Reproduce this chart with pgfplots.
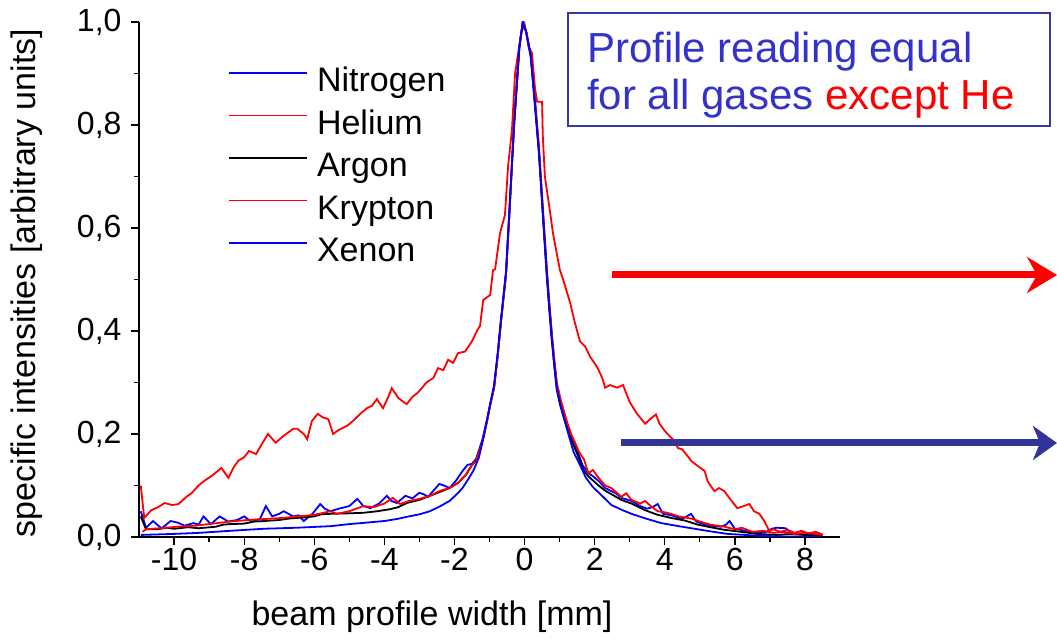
\documentclass[border=0pt]{standalone}
\usepackage{fontspec}
\setmainfont{Liberation Sans}
\usepackage{pgfplots}
\pgfplotsset{compat=1.18}
\usetikzlibrary{arrows.meta}
\definecolor{txtblue}{rgb}{0.2,0.2,0.8}
\definecolor{boxblue}{rgb}{0.22,0.22,0.66}
\definecolor{arrblue}{rgb}{0.2,0.2,0.6}
\begin{document}
\begin{tikzpicture}
\path[use as bounding box] (0,0) rectangle (1057pt,639pt);
\begin{axis}[
  at={(139pt,102pt)}, anchor=south west,
  scale only axis, width=701pt, height=515pt,
  xmin=-11, xmax=9, ymin=0, ymax=1,
  axis x line*=bottom, axis y line*=left,
  axis line style={line width=1.3pt, -},
  xtick={-10,-8,-6,-4,-2,0,2,4,6,8},
  ytick={0,0.2,0.4,0.6,0.8,1},
  minor x tick num=1, minor y tick num=1,
  tick align=outside,
  major tick length=8pt, minor tick length=5pt,
  every tick/.style={black, line width=1.3pt},
  tick label style={font=\fontsize{32}{38}\selectfont},
  /pgf/number format/assume math mode=true,
  yticklabel style={xshift=-6pt, /pgf/number format/fixed, /pgf/number format/fixed zerofill, /pgf/number format/precision=1, /pgf/number format/use comma},
  xlabel={beam profile width [mm]},
  ylabel={specific intensities [arbitrary units]},
  label style={font=\fontsize{34}{40}\selectfont},
  xlabel style={at={(axis description cs:0.418,-0.171)}, anchor=base},
  ylabel style={at={(axis description cs:-0.148,0.493)}, anchor=base},
  legend cell align=left,
  legend image code/.code={\draw[#1] (0pt,10pt) -- (78pt,10pt);},
  legend style={draw=none, fill=none, at={(axis description cs:0.127,0.912)}, anchor=north west,
    font=\fontsize{34}{40}\selectfont, row sep=11.5pt, column sep=9pt, inner sep=0pt,
    nodes={inner sep=0pt, text height=24pt, text depth=7pt}},
  every axis plot/.append style={line width=1.8pt},
]
% Nitrogen (noisy blue)
\addplot[blue] coordinates {
(-10.95,0.05) (-10.8,0.018) (-10.6,0.031) (-10.45,0.022) (-10.35,0.017) (-10.1,0.031) (-9.9,0.028) (-9.7,0.022) (-9.45,0.027) (-9.3,0.024) (-9.16,0.04) (-8.95,0.025) (-8.7,0.04) (-8.45,0.03) (-8.2,0.033) (-8.0,0.04) (-7.8,0.03) (-7.55,0.035) (-7.38,0.06) (-7.2,0.04) (-7.0,0.045) (-6.87,0.05) (-6.6,0.04) (-6.45,0.042) (-6.3,0.031) (-6.05,0.045) (-5.83,0.064) (-5.7,0.055) (-5.54,0.05) (-5.3,0.055) (-5.0,0.06) (-4.77,0.074) (-4.6,0.06) (-4.4,0.056) (-4.15,0.065) (-3.93,0.08) (-3.8,0.07) (-3.64,0.066) (-3.4,0.08) (-3.2,0.075) (-3.0,0.086) (-2.85,0.082) (-2.75,0.078) (-2.6,0.09) (-2.43,0.103) (-2.3,0.1) (-2.14,0.095) (-1.95,0.11) (-1.77,0.128) (-1.63,0.14) (-1.5,0.142) (-1.38,0.152) (-1.2,0.19) (-1.07,0.228) (-0.97,0.26) (-0.87,0.29) (-0.77,0.35) (-0.67,0.42) (-0.53,0.51) (-0.44,0.62) (-0.3,0.80) (-0.15,0.95) (-0.05,1.0) (0.05,0.98) (0.18,0.934) (0.3,0.84) (0.41,0.75) (0.52,0.635) (0.63,0.52) (0.7,0.455) (0.78,0.39) (0.85,0.34) (0.92,0.295) (1.02,0.265) (1.12,0.242) (1.22,0.218) (1.34,0.195) (1.45,0.178) (1.54,0.161) (1.65,0.14) (1.82,0.124) (1.95,0.118) (2.11,0.109) (2.3,0.095) (2.48,0.089) (2.6,0.085) (2.76,0.076) (3.05,0.07) (3.3,0.06) (3.5,0.055) (3.65,0.058) (3.8,0.064) (3.95,0.045) (4.2,0.042) (4.5,0.035) (4.75,0.045) (4.9,0.03) (5.1,0.025) (5.3,0.022) (5.6,0.02) (5.75,0.024) (5.85,0.031) (6.0,0.016) (6.3,0.012) (6.6,0.008) (6.9,0.01) (7.05,0.016) (7.2,0.018) (7.45,0.017) (7.6,0.008) (7.9,0.006) (8.2,0.005) (8.5,0.004)
};
\addlegendentry{Nitrogen}
% Helium (wide red)
\addplot[red] coordinates {
(-10.95,0.10) (-10.85,0.037) (-10.65,0.052) (-10.45,0.058) (-10.27,0.066) (-10.05,0.062) (-9.87,0.064) (-9.65,0.078) (-9.5,0.085) (-9.3,0.10) (-9.16,0.108) (-8.9,0.12) (-8.65,0.134) (-8.45,0.115) (-8.3,0.135) (-8.17,0.148) (-8.0,0.155) (-7.86,0.167) (-7.66,0.161) (-7.5,0.18) (-7.32,0.20) (-7.1,0.183) (-6.9,0.195) (-6.76,0.202) (-6.6,0.21) (-6.48,0.21) (-6.3,0.20) (-6.2,0.19) (-6.07,0.225) (-5.9,0.239) (-5.75,0.232) (-5.6,0.229) (-5.46,0.20) (-5.3,0.208) (-5.06,0.216) (-4.9,0.225) (-4.69,0.239) (-4.5,0.25) (-4.35,0.255) (-4.21,0.268) (-4.04,0.25) (-3.9,0.27) (-3.79,0.289) (-3.6,0.27) (-3.45,0.262) (-3.36,0.258) (-3.2,0.272) (-3.05,0.28) (-2.93,0.289) (-2.8,0.30) (-2.6,0.309) (-2.47,0.328) (-2.32,0.324) (-2.18,0.344) (-2.04,0.338) (-1.9,0.357) (-1.7,0.36) (-1.5,0.38) (-1.36,0.40) (-1.27,0.41) (-1.18,0.46) (-0.98,0.47) (-0.9,0.518) (-0.84,0.52) (-0.7,0.59) (-0.56,0.625) (-0.47,0.72) (-0.36,0.79) (-0.27,0.90) (-0.1,0.977) (0,0.996) (0.12,0.95) (0.21,0.94) (0.3,0.87) (0.36,0.845) (0.5,0.845) (0.52,0.78) (0.58,0.70) (0.73,0.63) (0.81,0.59) (0.92,0.55) (1.01,0.518) (1.1,0.50) (1.3,0.455) (1.44,0.415) (1.58,0.38) (1.73,0.37) (1.87,0.35) (2.07,0.33) (2.21,0.31) (2.3,0.29) (2.44,0.295) (2.64,0.29) (2.81,0.295) (3.0,0.262) (3.2,0.24) (3.44,0.22) (3.6,0.23) (3.75,0.238) (3.85,0.22) (4.0,0.206) (4.15,0.195) (4.29,0.186) (4.37,0.173) (4.5,0.17) (4.7,0.153) (4.75,0.148) (4.9,0.14) (5.0,0.135) (5.14,0.128) (5.22,0.109) (5.3,0.10) (5.42,0.089) (5.55,0.095) (5.7,0.089) (5.85,0.075) (6.0,0.062) (6.07,0.056) (6.25,0.06) (6.41,0.064) (6.55,0.05) (6.7,0.045) (6.85,0.03) (6.98,0.012) (7.1,0.015) (7.3,0.01) (7.5,0.014) (7.7,0.008) (7.9,0.012) (8.1,0.007) (8.3,0.01) (8.5,0.005)
};
\addlegendentry{Helium}
% Argon (black)
\addplot[black] coordinates {
(-10.95,0.04) (-10.8,0.015) (-10.5,0.015) (-10.2,0.018) (-10.0,0.016) (-9.6,0.019) (-9.3,0.017) (-8.8,0.02) (-8.6,0.024) (-8.4,0.025) (-8.0,0.026) (-7.7,0.03) (-7.43,0.031) (-7.0,0.033) (-6.7,0.036) (-6.48,0.037) (-6.0,0.04) (-5.8,0.044) (-5.54,0.045) (-5.0,0.046) (-4.6,0.047) (-4.2,0.05) (-3.84,0.054) (-3.6,0.058) (-3.36,0.066) (-3.0,0.072) (-2.7,0.08) (-2.4,0.088) (-2.14,0.095) (-1.9,0.105) (-1.66,0.122) (-1.5,0.14) (-1.38,0.148) (-1.2,0.186) (-1.07,0.225) (-0.97,0.26) (-0.87,0.29) (-0.77,0.35) (-0.67,0.42) (-0.53,0.51) (-0.44,0.62) (-0.3,0.80) (-0.15,0.95) (-0.05,1.0) (0.05,0.98) (0.18,0.93) (0.3,0.835) (0.41,0.745) (0.52,0.625) (0.63,0.51) (0.7,0.445) (0.78,0.38) (0.85,0.33) (0.92,0.285) (1.02,0.255) (1.12,0.232) (1.22,0.21) (1.34,0.187) (1.45,0.17) (1.54,0.155) (1.68,0.13) (1.82,0.118) (2.11,0.1) (2.3,0.09) (2.48,0.083) (2.76,0.072) (3.05,0.065) (3.44,0.052) (3.8,0.043) (4.18,0.037) (4.57,0.032) (4.94,0.024) (5.3,0.019) (5.7,0.014) (6.07,0.011) (6.63,0.006) (7.2,0.004) (7.6,0.006) (8.14,0.003) (8.5,0.003)
};
\addlegendentry{Argon}
% Krypton (narrow red)
\addplot[red] coordinates {
(-10.9,0.01) (-10.8,0.015) (-10.4,0.017) (-9.9,0.02) (-9.4,0.022) (-8.9,0.026) (-8.4,0.03) (-7.9,0.033) (-7.4,0.035) (-6.9,0.037) (-6.48,0.04) (-6.0,0.043) (-5.54,0.05) (-5.35,0.045) (-5.0,0.05) (-4.6,0.06) (-4.3,0.058) (-4.0,0.065) (-3.76,0.076) (-3.55,0.064) (-3.3,0.07) (-3.0,0.074) (-2.7,0.08) (-2.4,0.09) (-2.14,0.095) (-1.9,0.105) (-1.66,0.122) (-1.5,0.14) (-1.38,0.148) (-1.2,0.186) (-1.07,0.225) (-0.97,0.26) (-0.87,0.29) (-0.77,0.35) (-0.67,0.42) (-0.53,0.51) (-0.44,0.62) (-0.3,0.80) (-0.15,0.95) (-0.05,1.0) (0.05,0.98) (0.18,0.934) (0.3,0.85) (0.41,0.76) (0.52,0.64) (0.63,0.525) (0.7,0.46) (0.78,0.395) (0.85,0.345) (0.92,0.3) (1.02,0.27) (1.12,0.245) (1.22,0.222) (1.34,0.198) (1.45,0.182) (1.54,0.167) (1.7,0.15) (1.82,0.124) (1.95,0.13) (2.11,0.115) (2.3,0.1) (2.48,0.095) (2.76,0.078) (2.9,0.085) (3.05,0.072) (3.3,0.065) (3.44,0.07) (3.6,0.06) (3.8,0.05) (4.0,0.048) (4.18,0.045) (4.4,0.04) (4.57,0.038) (4.8,0.035) (5.0,0.03) (5.3,0.024) (5.5,0.022) (5.7,0.02) (6.0,0.015) (6.2,0.018) (6.5,0.01) (6.8,0.012) (7.1,0.008) (7.4,0.01) (7.7,0.006) (8.0,0.008) (8.3,0.006) (8.5,0.004)
};
\addlegendentry{Krypton}
% Xenon (smooth blue)
\addplot[blue] coordinates {
(-10.95,0.004) (-10,0.006) (-9.3,0.008) (-8.4,0.012) (-7.43,0.016) (-6.5,0.018) (-5.54,0.021) (-5,0.025) (-4.5,0.028) (-4,0.031) (-3.64,0.035) (-3.3,0.04) (-3.0,0.044) (-2.7,0.05) (-2.4,0.06) (-2.14,0.07) (-1.95,0.082) (-1.77,0.095) (-1.6,0.113) (-1.45,0.13) (-1.3,0.155) (-1.15,0.2) (-1.05,0.235) (-0.97,0.262) (-0.87,0.295) (-0.77,0.355) (-0.67,0.425) (-0.53,0.515) (-0.44,0.625) (-0.3,0.80) (-0.15,0.95) (-0.05,1.0) (0.05,0.98) (0.18,0.934) (0.3,0.84) (0.41,0.75) (0.52,0.635) (0.63,0.52) (0.7,0.455) (0.78,0.385) (0.85,0.335) (0.92,0.29) (1.02,0.258) (1.12,0.232) (1.25,0.2) (1.4,0.165) (1.58,0.14) (1.75,0.115) (1.95,0.097) (2.24,0.078) (2.48,0.062) (2.8,0.052) (3.05,0.045) (3.5,0.035) (3.9,0.027) (4.4,0.021) (4.85,0.016) (5.3,0.011) (5.79,0.006) (6.3,0.004) (6.73,0.002) (7.5,0.001) (8.5,0.0)
};
\addlegendentry{Xenon}
\end{axis}
% annotation box
\draw[boxblue, line width=2pt] (568pt,626pt) rectangle (1050pt,513pt);
\node[anchor=base west, inner sep=0pt, font=\fontsize{42}{48}\selectfont, text=txtblue] at (587pt,576pt) {Profile reading equal};
\node[anchor=base west, inner sep=0pt, font=\fontsize{42}{48}\selectfont, text=txtblue] at (587pt,529pt) {for all gases \textcolor{red}{except He}};
% arrows
\draw[red, line width=7pt, -{Stealth[length=30pt,width=36pt,inset=10pt]}] (612pt,364pt) -- (1057pt,364pt);
\draw[arrblue, line width=7pt, -{Stealth[length=24pt,width=34pt,inset=7pt]}] (621pt,196pt) -- (1057pt,196pt);
\end{tikzpicture}
\end{document}
